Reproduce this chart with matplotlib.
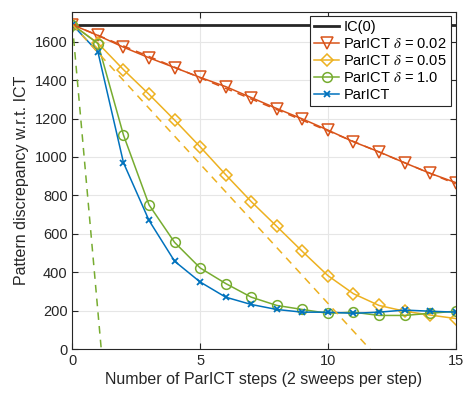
import numpy as np
import matplotlib.pyplot as plt

steps = np.arange(16)
ic0 = 1688

# ParICT with threshold delta, and the plain ParICT
d002 = [1688, 1632, 1571, 1516, 1465, 1414, 1366, 1309, 1252, 1198, 1140, 1079, 1027, 970, 915, 867]
d005 = [1688, 1592, 1454, 1326, 1192, 1053, 908, 768, 639, 509, 383, 289, 228, 198, 178, 160]
d1 = [1688, 1590, 1114, 751, 556, 423, 342, 271, 228, 207, 187, 193, 176, 176, 187, 198]
par = [1688, 1546, 970, 670, 458, 350, 271, 233, 207, 193, 193, 187, 193, 204, 198, 193]

# dashed linear trends (x ends, y ends)
dash_002 = ([0, 15], [1688, 860])
dash_005 = ([0, 11.65], [1688, 0])
dash_1 = ([0, 1.13], [1688, 0])

c_blue = '#0072BD'
c_orange = '#D95319'
c_yellow = '#EDB120'
c_green = '#77AC30'

plt.rcParams['font.family'] = ['Liberation Sans', 'DejaVu Sans']
plt.rcParams['mathtext.fontset'] = 'stix'

fig = plt.figure(figsize=(4.64, 3.94), dpi=100)
ax = fig.add_axes([0.156, 0.1135, 0.826, 0.857])

ax.plot([0, 15], [ic0, ic0], color='#262626', lw=2, label='IC(0)')
ax.plot(steps, d002, color=c_orange, marker='v', ms=8, mfc='none', mew=1.1, lw=1.1,
        label=r'ParICT $\delta$ = 0.02')
ax.plot(steps, d005, color=c_yellow, marker='D', ms=6.5, mfc='none', mew=1.1, lw=1.1,
        label=r'ParICT $\delta$ = 0.05')
ax.plot(steps, d1, color=c_green, marker='o', ms=7, mfc='none', mew=1.1, lw=1.1,
        label=r'ParICT $\delta$ = 1.0')
ax.plot(steps, par, color=c_blue, marker='x', ms=5, mew=1.3, lw=1.1, label='ParICT')

ax.plot(*dash_002, color=c_orange, ls=(0, (5, 4)), lw=1.1)
ax.plot(*dash_005, color=c_yellow, ls=(0, (5, 4)), lw=1.1)
ax.plot(*dash_1, color=c_green, ls=(0, (5, 4)), lw=1.1)

ax.set_xlim(0, 15)
ax.set_ylim(0, 1756)
ax.set_xticks([0, 5, 10, 15])
ax.set_yticks(np.arange(0, 1601, 200))
ax.grid(True, color='#e6e6e6', lw=0.8)
ax.set_axisbelow(True)
ax.tick_params(direction='in', top=True, right=True, labelsize=10.5, colors='#262626', length=4)
for s in ax.spines.values():
    s.set_color('#262626')
    s.set_linewidth(0.8)

ax.set_xlabel('Number of ParICT steps (2 sweeps per step)', fontsize=11.5, color='#262626', labelpad=3)
ax.set_ylabel('Pattern discrepancy w.r.t. ICT', fontsize=11.5, color='#262626', labelpad=4)

leg = ax.legend(loc='upper right', fontsize=10.5, frameon=True, fancybox=False, handlelength=1.7,
                handletextpad=0.3, borderpad=0.3, labelspacing=0.2, borderaxespad=0.3)
leg.get_frame().set_edgecolor('#262626')
leg.get_frame().set_linewidth(0.8)
leg.get_frame().set_alpha(1)

fig.savefig('out.png', dpi=100)
